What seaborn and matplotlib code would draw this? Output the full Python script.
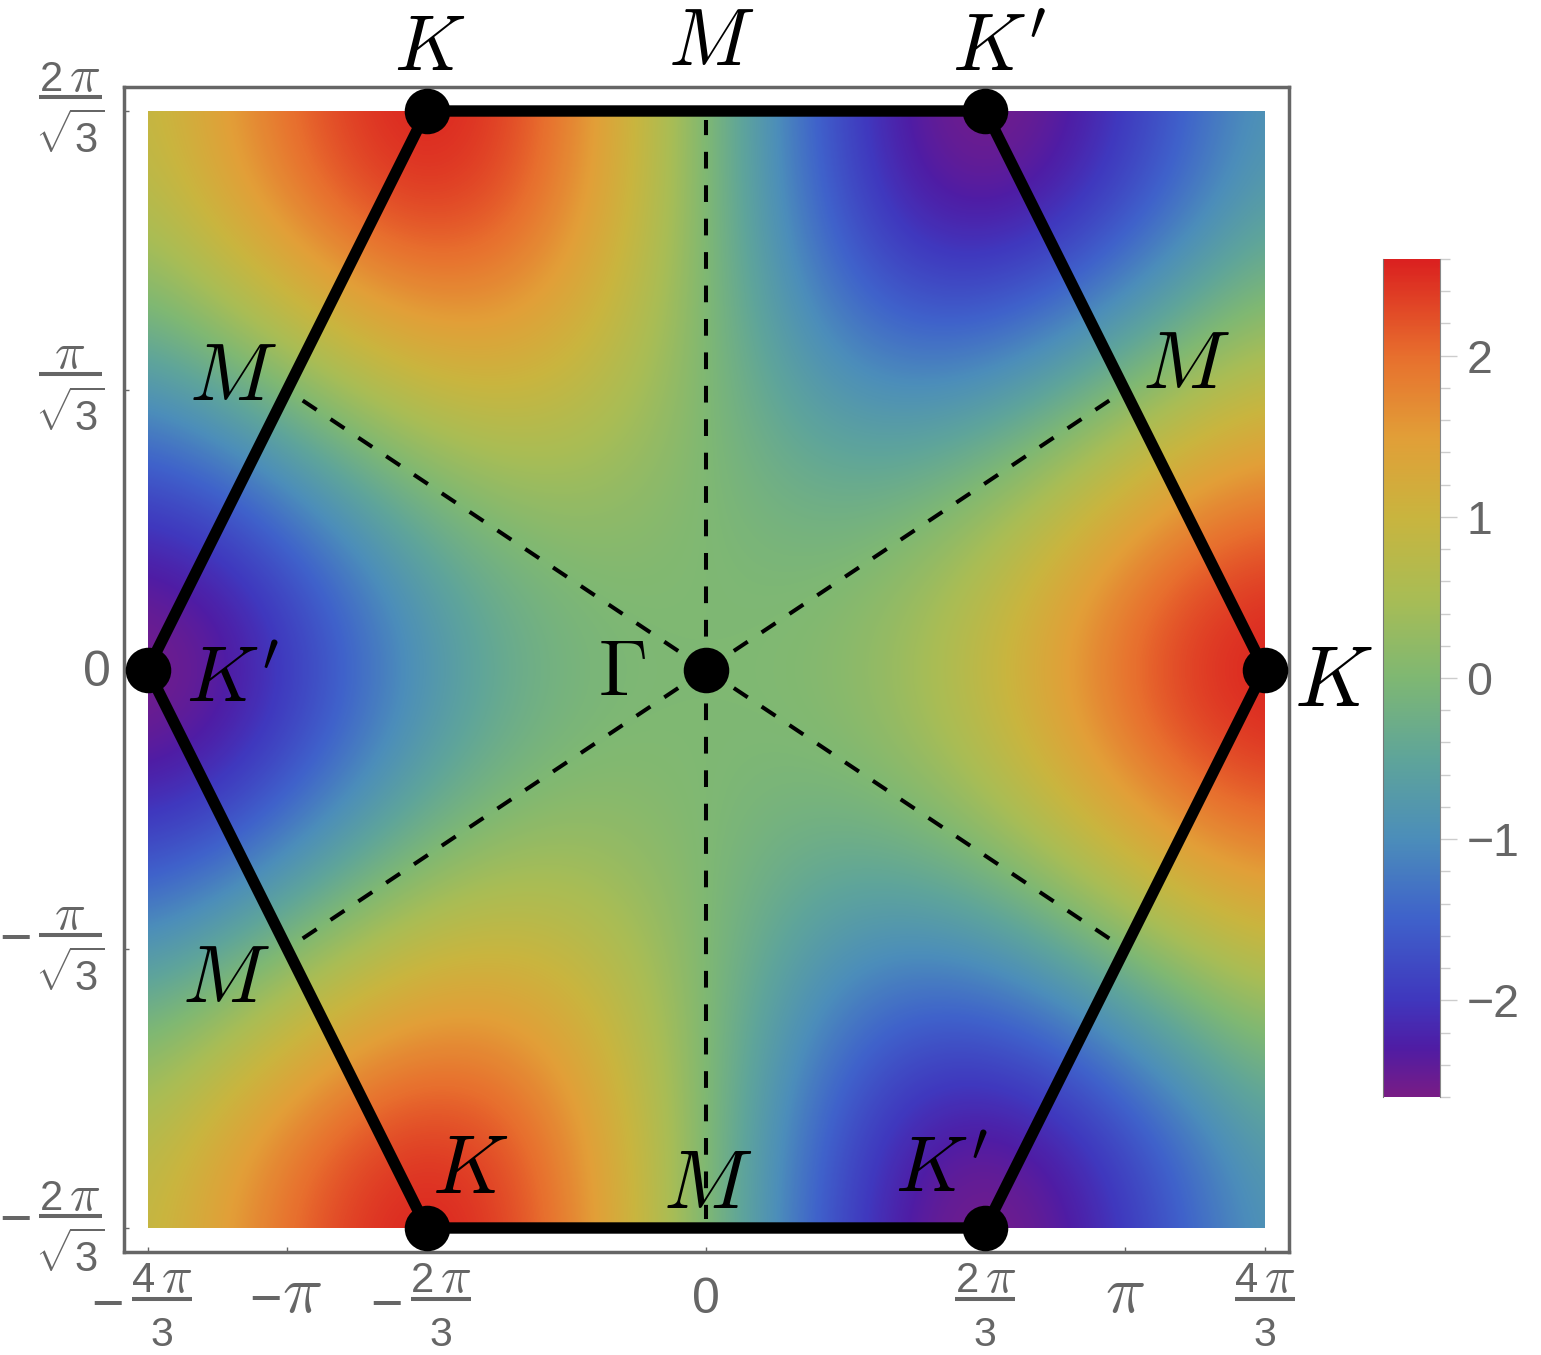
import numpy as np
import pandas as pd
import seaborn as sns
import matplotlib
matplotlib.use("Agg")
import matplotlib.pyplot as plt
from matplotlib.colors import LinearSegmentedColormap
from matplotlib.lines import Line2D
from matplotlib.patches import Rectangle
from matplotlib.transforms import IdentityTransform

# ---- density values, top row (ky max) to centre row (ky 0), left (kx min) to right (kx max)
row_8 = [0.87, 1.43, 2.00, 2.43, 2.60, 2.41, 1.87, 1.02, 0, -1.02, -1.87, -2.41, -2.60, -2.43, -2.00, -1.43, -0.87]
row_7 = [0.73, 1.29, 1.85, 2.29, 2.47, 2.31, 1.79, 0.98, 0, -0.98, -1.79, -2.31, -2.47, -2.29, -1.85, -1.29, -0.73]
row_6 = [0.36, 0.87, 1.41, 1.87, 2.09, 2.00, 1.57, 0.87, 0, -0.87, -1.57, -2.00, -2.09, -1.87, -1.41, -0.87, -0.36]
row_5 = [-0.20, 0.24, 0.77, 1.24, 1.53, 1.54, 1.25, 0.70, 0, -0.70, -1.25, -1.54, -1.53, -1.24, -0.77, -0.24, 0.20]
row_4 = [-0.87, -0.50, 0.00, 0.50, 0.87, 1.00, 0.87, 0.50, 0, -0.50, -0.87, -1.00, -0.87, -0.50, 0.00, 0.50, 0.87]
row_3 = [-1.53, -1.24, -0.77, -0.24, 0.20, 0.46, 0.48, 0.30, 0, -0.30, -0.48, -0.46, -0.20, 0.24, 0.77, 1.24, 1.53]
row_2 = [-2.09, -1.87, -1.41, -0.87, -0.36, 0.00, 0.16, 0.13, 0, -0.13, -0.16, 0.00, 0.36, 0.87, 1.41, 1.87, 2.09]
row_1 = [-2.47, -2.29, -1.85, -1.29, -0.73, -0.31, -0.06, 0.02, 0, -0.02, 0.06, 0.31, 0.73, 1.29, 1.85, 2.29, 2.47]
row_0 = [-2.60, -2.43, -2.00, -1.43, -0.87, -0.41, -0.13, -0.02, 0, 0.02, 0.13, 0.41, 0.87, 1.43, 2.00, 2.43, 2.60]
density_rows = [row_8, row_7, row_6, row_5, row_4, row_3, row_2, row_1, row_0,
                row_1, row_2, row_3, row_4, row_5, row_6, row_7, row_8]

# colour scale
scale_values = [-2.6, -2.3, -2.0, -1.5, -1.0, -0.5, 0.0, 0.5, 1.0, 1.5, 2.0, 2.6]
scale_colors = ["#781C86", "#4F1DA5", "#4038BE", "#3F62CB", "#4C8EBA", "#5FA59A",
                "#7FB873", "#A9BD55", "#C9B53F", "#E29F38", "#E8702E", "#DB2120"]

PI, R3 = np.pi, np.sqrt(3)
kx_max, ky_max = 4 * PI / 3, 2 * PI / R3
hex_kx = [kx_max, 2 * PI / 3, -2 * PI / 3, -kx_max, -2 * PI / 3, 2 * PI / 3, kx_max]
hex_ky = [0, ky_max, ky_max, 0, -ky_max, -ky_max, 0]
point_kx = [kx_max, 2 * PI / 3, -2 * PI / 3, -kx_max, -2 * PI / 3, 2 * PI / 3, 0]
point_ky = [0, ky_max, ky_max, 0, -ky_max, -ky_max, 0]
spoke_kx = [3.03, 3.03, -3.03, -3.03, 0, 0]
spoke_ky = [1.75, -1.75, 1.75, -1.75, 3.57, -3.57]

x_ticks = [-4 * PI / 3, -PI, -2 * PI / 3, 0, 2 * PI / 3, PI, 4 * PI / 3]
y_ticks = [2 * PI / R3, PI / R3, 0, -PI / R3, -2 * PI / R3]
bar_ticks = [-2, -1, 0, 1, 2]
bar_minor_ticks = [-2.6, -2.4, -2.2, -1.8, -1.6, -1.4, -1.2, -0.8, -0.6, -0.4, -0.2,
                   0.2, 0.4, 0.6, 0.8, 1.2, 1.4, 1.6, 1.8, 2.2, 2.4, 2.6]

# label text, pixel position in the picture
point_labels = [
    ("$K$", 430, 50, 56), ("$M$", 711, 44, 58), ("$K^{\\prime}$", 999, 50, 58),
    ("$M$", 233, 379, 59), ("$M$", 1186, 367, 59), ("$K^{\\prime}$", 232, 682, 57),
    ("$\\Gamma$", 622, 675, 57), ("$K$", 1333, 684, 62), ("$M$", 226, 981, 59),
    ("$K$", 470, 1171, 60), ("$M$", 708, 1186, 60), ("$K^{\\prime}$", 941, 1171, 57),
]

W, H = 1541, 1355
GRAY = "#666666"
sns.set_theme(style="white")
plt.rcParams["font.family"] = ["Liberation Sans", "DejaVu Sans"]

fig = plt.figure(figsize=(W / 100, H / 100), dpi=100, facecolor="white")


def box(x0, y0, x1, y1):
    return [x0 / W, 1 - y1 / H, (x1 - x0) / W, (y1 - y0) / H]


ax = fig.add_axes(box(123.5, 87, 1288.5, 1252))
cmap = LinearSegmentedColormap.from_list(
    "rainbow_bar",
    [((v + 2.6) / 5.2, c) for v, c in zip(scale_values, scale_colors)], N=512)

grid = np.array(density_rows)
half_x = kx_max / (grid.shape[1] - 1)
half_y = ky_max / (grid.shape[0] - 1)
im = ax.imshow(grid, cmap=cmap, vmin=-2.6, vmax=2.6, aspect="auto", interpolation="bicubic",
               extent=[-kx_max - half_x, kx_max + half_x, -ky_max - half_y, ky_max + half_y])
im.set_clip_path(Rectangle((-kx_max, -ky_max), 2 * kx_max, 2 * ky_max, transform=ax.transData))

pad_x, pad_y = 24 / (1117 / (2 * kx_max)), 24 / (1117 / (2 * ky_max))
ax.set_xlim(-kx_max - pad_x, kx_max + pad_x)
ax.set_ylim(-ky_max - pad_y, ky_max + pad_y)

for sx, sy in zip(spoke_kx, spoke_ky):
    sns.lineplot(x=[0, sx], y=[0, sy], ax=ax, color="black", lw=2.9, sort=False, estimator=None,
                 linestyle=(0, (4.15, 4.15)), legend=False, zorder=3)
outline = pd.DataFrame({"kx": hex_kx, "ky": hex_ky})
sns.lineplot(data=outline, x="kx", y="ky", ax=ax, color="black", lw=8.2, sort=False, estimator=None,
             legend=False, solid_joinstyle="round", zorder=4, clip_on=False)
sns.scatterplot(x=point_kx, y=point_ky, ax=ax, color="black", s=1075, linewidth=0, legend=False,
                zorder=5, clip_on=False)

ax.set_xlabel("")
ax.set_ylabel("")
ax.set_xticks(x_ticks)
ax.set_yticks(y_ticks)
ax.set_xticklabels([])
ax.set_yticklabels([])
ax.tick_params(direction="in", length=3.5, width=1.0, color=GRAY, left=True, bottom=True,
               top=False, right=False)
for sp in ax.spines.values():
    sp.set_visible(True)
    sp.set_color(GRAY)
    sp.set_linewidth(2.5)

# legend bar
cax = fig.add_axes(box(1383, 259, 1440, 1097))
cax.imshow(np.linspace(2.6, -2.6, 400)[:, None], cmap=cmap, vmin=-2.6, vmax=2.6, aspect="auto",
           extent=[0, 1, -2.6, 2.6], interpolation="bilinear")
cax.set_xticks([])
cax.yaxis.tick_right()
cax.set_yticks(bar_ticks)
cax.set_yticks(bar_minor_ticks, minor=True)
cax.set_yticklabels([str(t).replace("-", "\u2212") for t in bar_ticks], fontsize=33.5, color=GRAY)
cax.tick_params(axis="y", which="major", direction="out", length=12, width=1.0, color="#CCCCCC",
                pad=7, right=True)
cax.tick_params(axis="y", which="minor", direction="out", length=7.5, width=1.0, color="#CCCCCC",
                right=True)
for sp in cax.spines.values():
    sp.set_visible(False)
cax.spines["left"].set_visible(True)
cax.spines["right"].set_visible(True)
cax.spines["left"].set_color("#777777")
cax.spines["right"].set_color("#888888")
cax.spines["left"].set_linewidth(0.8)
cax.spines["right"].set_linewidth(0.8)

px = IdentityTransform()
fig.canvas.draw()


def tx(x, y, s, size=30, ha="center", va="baseline", **kw):
    fig.text(x, H - y, s, transform=px, fontsize=size, ha=ha, va=va, color=GRAY, **kw)


def bar(x0, x1, y):
    fig.add_artist(Line2D([x0, x1], [H - y, H - y], transform=px, color=GRAY, lw=2.9,
                          solid_capstyle="butt"))


def pi_num(cx, base, digit):
    if digit:
        tx(cx - 18, base, digit)
        tx(cx + 15, base, "$\\pi$", size=37, math_fontfamily="cm")
    else:
        tx(cx, base, "$\\pi$", size=37, math_fontfamily="cm")


def tick_x(v):
    return ax.transData.transform((v, 0))[0]


def tick_y(v):
    return H - ax.transData.transform((0, v))[1]


# x tick labels: fraction labels for the outer ticks, plain ones for the rest
x_fraction = {0: ("4", True), 2: ("2", True), 4: ("2", False), 6: ("4", False)}
for idx, (digit, neg) in x_fraction.items():
    x = tick_x(x_ticks[idx]) + (14 if neg else 0)
    pi_num(x, 1292, digit)
    bar(x - 30, x + 30, 1299)
    # raised a little so the text box, with its descent, stays inside the picture
    tx(x, 1345.5, "3", size=29.5)
    if neg:
        tx(x - 54, 1322, "\u2212", size=40)
tx(tick_x(x_ticks[1]) + 15, 1312, "$\\pi$", size=48, math_fontfamily="cm")
tx(tick_x(x_ticks[1]) - 22, 1317, "\u2212", size=40)
tx(tick_x(x_ticks[5]), 1312, "$\\pi$", size=48, math_fontfamily="cm")
tx(tick_x(x_ticks[3]), 1313, "0", size=36)

# y tick labels
y_fraction = {0: ("2", False, -14), 1: ("", False, -16), 3: ("", True, -14), 4: ("2", True, -12)}
for idx, (digit, neg, off) in y_fraction.items():
    y = tick_y(y_ticks[idx]) + off
    pi_num(70, y - 6, digit)
    bar(39, 102, y)
    tx(70, y + 41, "$\\sqrt{\\mathregular{3}}$", size=30, va="center", math_fontfamily="cm")
    if neg:
        tx(15, y + 21, "\u2212", size=40)
tx(97, tick_y(y_ticks[2]) + 17, "0", size=36)

# point labels
for s, x, y, size in point_labels:
    fig.text(x, H - y, s, transform=px, fontsize=size, ha="center", va="center", color="black",
             math_fontfamily="cm", zorder=10)

fig.savefig("out.png", dpi=100, facecolor="white")
